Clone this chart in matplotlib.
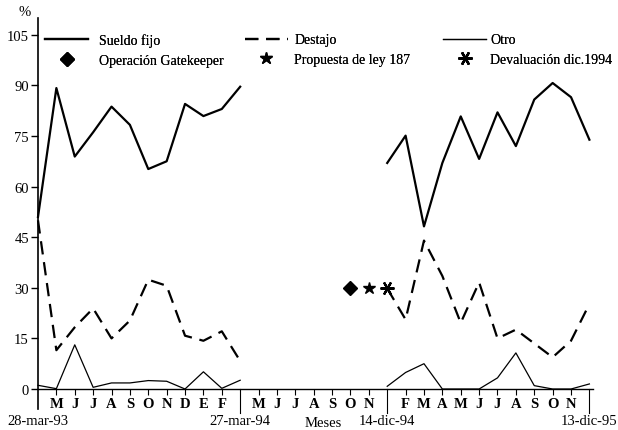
import matplotlib
matplotlib.use("Agg")
import matplotlib.pyplot as plt
from matplotlib.lines import Line2D

plt.rcParams['font.family'] = ['Liberation Serif', 'DejaVu Serif']

# month positions (index 0 = 28-mar-93)
idx1 = list(range(0, 12))
idx2 = list(range(19, 31))

sueldo1 = [51, 89.2, 68.9, 76.1, 83.7, 78.3, 65.2, 67.5, 84.5, 80.9, 83.0, 89.6]
destajo1 = [50, 11.5, 18.3, 23.9, 15.0, 20.3, 32.4, 30.6, 15.8, 14.3, 17.1, 8.3]
otro1 = [1.1, 0.1, 13.1, 0.5, 1.8, 1.8, 2.5, 2.3, 0, 5.1, 0.2, 2.6]

sueldo2 = [67.0, 75.1, 48.2, 67.0, 80.8, 68.2, 82.0, 72.0, 85.8, 90.7, 86.5, 73.9]
destajo2 = [29.8, 20.6, 44.0, 33.5, 19.6, 31.6, 15.0, 17.6, 13.5, 9.4, 14.3, 25.2]
otro2 = [0.8, 4.9, 7.5, 0, 0, 0, 3.3, 10.7, 1.0, 0, 0, 1.5]

# events
ev_x = [17, 18, 19]
ev_y = [30, 30, 30]

month_pos = list(range(1, 11)) + list(range(12, 19)) + list(range(20, 30))
month_lab = ['M', 'J', 'J', 'A', 'S', 'O', 'N', 'D', 'E', 'F',
             'M', 'J', 'J', 'A', 'S', 'O', 'N',
             'F', 'M', 'A', 'M', 'J', 'J', 'A', 'S', 'O', 'N']
date_pos = [0, 11, 19, 30]
date_lab = ['28-mar-93', '27-mar-94', '14-dic-94', '13-dic-95']
yticks = [0, 15, 30, 45, 60, 75, 90, 105]

fig = plt.figure(figsize=(6.18, 4.31), dpi=100)
ax = fig.add_axes([0, 0, 1, 1])
ax.set_xlim(-2.067, 31.556)
ax.set_ylim(-12.15, 115.6)

ax.plot(idx1, sueldo1, color='black', lw=1.6)
ax.plot(idx2, sueldo2, color='black', lw=1.6)
ax.plot(idx1, destajo1, color='black', lw=1.6, dashes=(6, 3.5))
ax.plot(idx2, destajo2, color='black', lw=1.6, dashes=(6, 3.5))
ax.plot(idx1, otro1, color='black', lw=0.9)
ax.plot(idx2, otro2, color='black', lw=0.9)

ax.plot(ev_x[0], ev_y[0], marker='D', color='black', ms=7, ls='none')
ax.plot(ev_x[1], ev_y[1], marker='*', color='black', ms=9, ls='none')
ax.plot(ev_x[2], ev_y[2], marker=(6, 2, 90), color='black', ms=10, mew=1.6, ls='none')

# axes
for s in ['top', 'right']:
    ax.spines[s].set_visible(False)
ax.spines['left'].set_position(('data', 0))
ax.spines['left'].set_bounds(-6, 110)
ax.spines['bottom'].set_position(('data', 0))
ax.spines['bottom'].set_bounds(0, 30.2)
ax.spines['left'].set_linewidth(1.2)
ax.spines['bottom'].set_linewidth(1.0)

ax.set_yticks(yticks)
ax.set_yticklabels([str(v) for v in yticks], fontsize=10.5)
ax.tick_params(axis='y', direction='out', length=5, width=1, pad=1.5)
ax.set_xticks(month_pos)
ax.set_xticklabels(month_lab, fontsize=10.5, fontweight='bold')
ax.tick_params(axis='x', direction='out', length=4, width=0.8, pad=1.5)

for p in date_pos[1:]:
    ax.plot([p, p], [0, -7], color='black', lw=0.8)
for p, lab in zip(date_pos, date_lab):
    ax.text(p, -9.3, lab, ha='center', va='center', fontsize=10.5)
ax.text(14.5, -9.8, 'Meses', ha='left', va='center', fontsize=10.5)
ax.text(-0.75, 112, '%', ha='center', va='center', fontsize=10.5)

# legend in three columns
h_sueldo = Line2D([], [], color='black', lw=1.6)
h_destajo = Line2D([], [], color='black', lw=1.6, dashes=(6, 3.5))
h_otro = Line2D([], [], color='black', lw=0.9)
h_gate = Line2D([], [], color='black', marker='D', ms=7, ls='none')
h_prop = Line2D([], [], color='black', marker='*', ms=9, ls='none')
h_dev = Line2D([], [], color='black', marker=(6, 2, 90), ms=10, mew=1.6, ls='none')

cols = [([h_sueldo, h_gate], ['Sueldo fijo', 'Operación Gatekeeper'], 0.073, 0.8),
        ([h_destajo, h_prop], ['Destajo', 'Propuesta de ley 187'], 0.396, 0.45),
        ([h_otro, h_dev], ['Otro', 'Devaluación dic.1994'], 0.717, 0.3)]
for handles, labels, xpos, tpad in cols:
    leg = fig.legend(handles, labels, loc='upper left', bbox_to_anchor=(xpos, 0.92),
                     frameon=False, fontsize=10, handlelength=3.1,
                     handletextpad=tpad, labelspacing=0.45, borderpad=0, borderaxespad=0)
    fig.add_artist(leg)

fig.savefig('out.png', dpi=100)
